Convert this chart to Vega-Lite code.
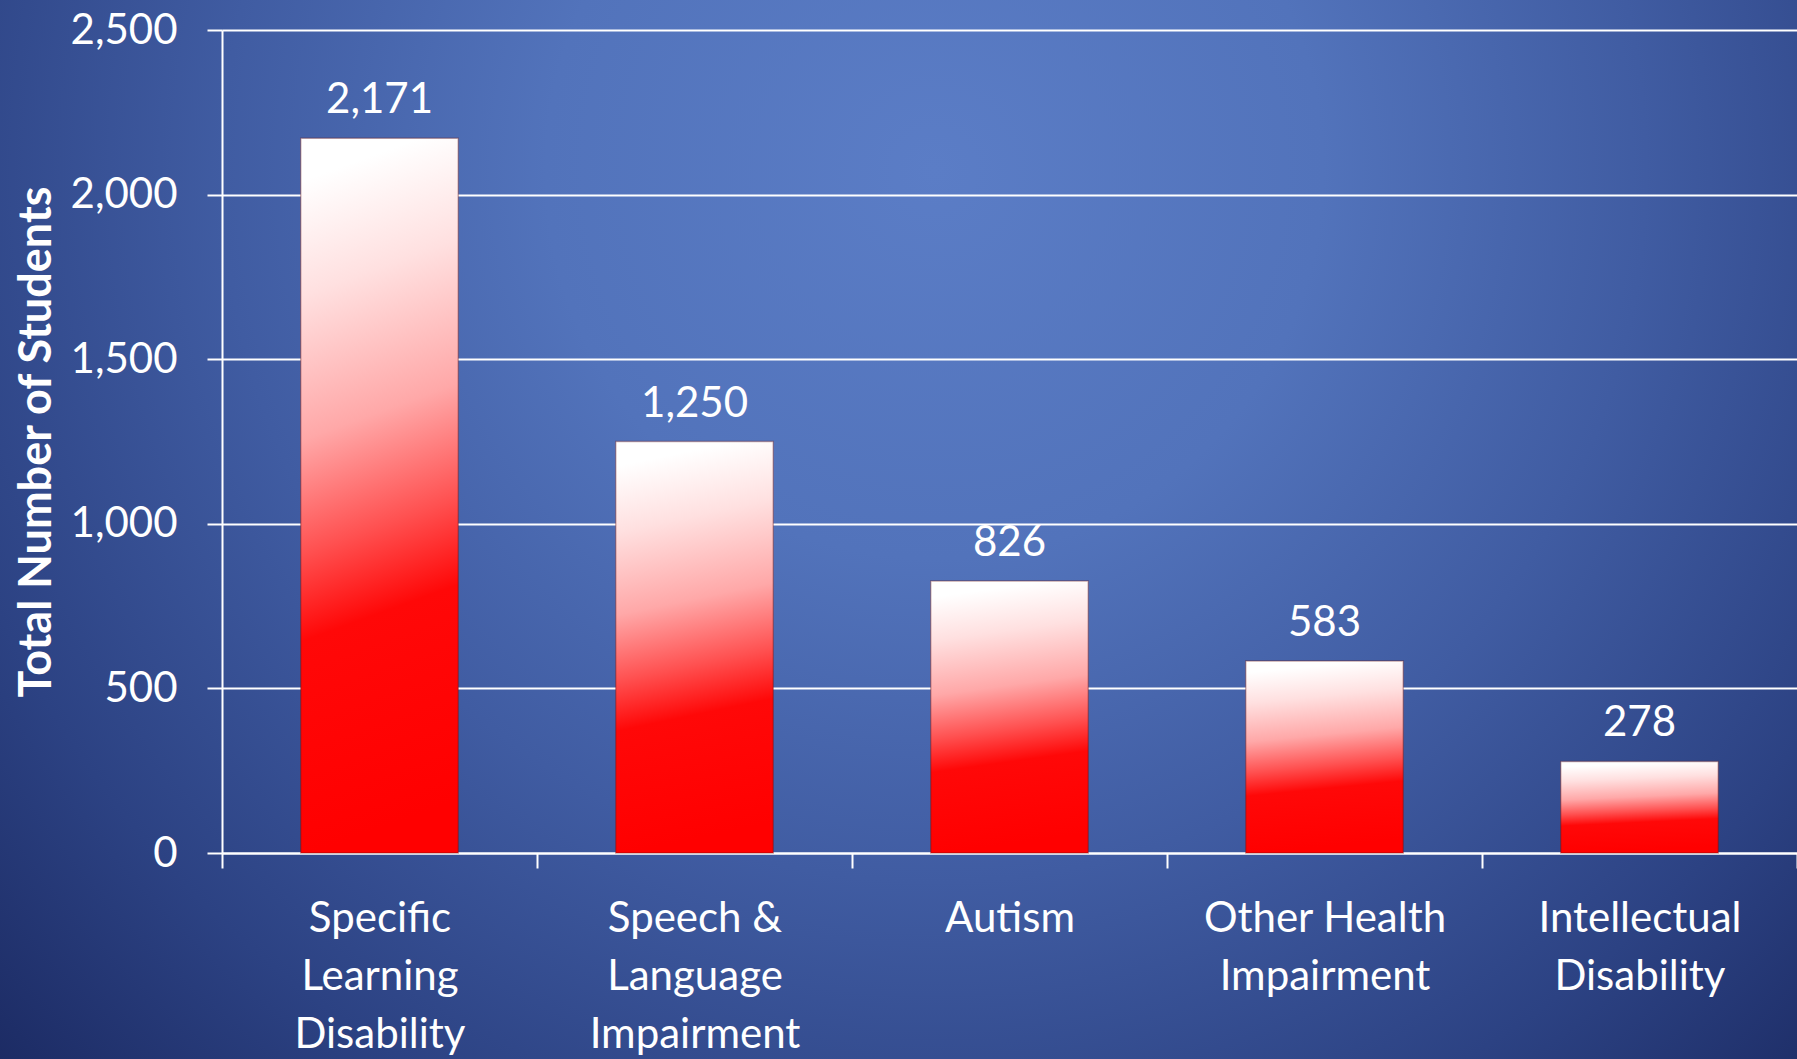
{
  "$schema": "https://vega.github.io/schema/vega-lite/v6.json",
  "width": 1797,
  "height": 1059,
  "autosize": {"type": "none"},
  "padding": 0,
  "background": "#25397a",
  "config": {
    "font": "Lato",
    "view": {
      "stroke": null,
      "fill": {
        "gradient": "radial",
        "x1": 0.52, "y1": 0.3, "r1": 0,
        "x2": 0.52, "y2": 0.3, "r2": 0.72,
        "stops": [
          {"offset": 0, "color": "#5b7dc6"},
          {"offset": 0.3, "color": "#5273bb"},
          {"offset": 0.55, "color": "#405ca2"},
          {"offset": 0.8, "color": "#2c4283"},
          {"offset": 1, "color": "#1c2b64"}
        ]
      }
    }
  },
  "data": {
    "values": [
      {"category": "Specific Learning Disability", "students": 2171},
      {"category": "Speech & Language Impairment", "students": 1250},
      {"category": "Autism", "students": 826},
      {"category": "Other Health Impairment", "students": 583},
      {"category": "Intellectual Disability", "students": 278}
    ]
  },
  "encoding": {
    "x": {
      "field": "category",
      "type": "nominal",
      "sort": null,
      "scale": {"range": [222, 1797], "paddingInner": 0, "paddingOuter": 0},
      "axis": {
        "title": null,
        "orient": "bottom",
        "offset": -206,
        "grid": false,
        "domain": true,
        "domainColor": "#ffffff",
        "domainWidth": 2,
        "ticks": true,
        "tickBand": "extent",
        "tickColor": "#ffffff",
        "tickWidth": 2,
        "tickSize": 15,
        "labelAngle": 0,
        "labelColor": "#ffffff",
        "labelFont": "Lato",
        "labelFontSize": 42,
        "labelLineHeight": 58,
        "labelBaseline": "top",
        "labelPadding": 30,
        "labelLimit": 0,
        "labelOverlap": false,
        "labelExpr": "datum.value == 'Specific Learning Disability' ? ['Specific', 'Learning', 'Disability'] : datum.value == 'Speech & Language Impairment' ? ['Speech &', 'Language', 'Impairment'] : datum.value == 'Other Health Impairment' ? ['Other Health', 'Impairment'] : datum.value == 'Intellectual Disability' ? ['Intellectual', 'Disability'] : datum.label"
      }
    },
    "y": {
      "field": "students",
      "type": "quantitative",
      "scale": {"domain": [0, 2500], "range": [853, 30], "nice": false, "zero": true},
      "axis": {
        "title": "Total Number of Students",
        "titleColor": "#ffffff",
        "titleFont": "Lato",
        "titleFontSize": 45,
        "titleFontWeight": "bold",
        "titlePadding": 11,
        "orient": "left",
        "offset": -222,
        "values": [0, 500, 1000, 1500, 2000, 2500],
        "format": ",d",
        "grid": true,
        "gridColor": "#ffffff",
        "gridWidth": 2,
        "gridOpacity": 1,
        "domain": true,
        "domainColor": "#ffffff",
        "domainWidth": 2,
        "tickColor": "#ffffff",
        "tickWidth": 2,
        "tickSize": 15,
        "labelColor": "#ffffff",
        "labelFont": "Lato",
        "labelFontSize": 42,
        "labelPadding": 30
      }
    }
  },
  "layer": [
    {
      "mark": {
        "type": "bar",
        "width": {"band": 0.5},
        "fill": {
          "gradient": "linear",
          "x1": 0, "y1": 0, "x2": 0.08, "y2": 1,
          "stops": [
            {"offset": 0, "color": "#ffffff"},
            {"offset": 0.06, "color": "#ffffff"},
            {"offset": 0.22, "color": "#ffe0e0"},
            {"offset": 0.42, "color": "#ffa8a8"},
            {"offset": 0.58, "color": "#ff5050"},
            {"offset": 0.7, "color": "#ff0808"},
            {"offset": 1, "color": "#ff0000"}
          ]
        },
        "stroke": "#6a1010",
        "strokeOpacity": 0.35,
        "strokeWidth": 1.5
      }
    },
    {
      "mark": {
        "type": "text",
        "dy": -25,
        "baseline": "alphabetic",
        "align": "center",
        "font": "Lato",
        "fontSize": 42,
        "color": "#ffffff"
      },
      "encoding": {
        "text": {"field": "students", "type": "quantitative", "format": ","}
      }
    }
  ]
}
